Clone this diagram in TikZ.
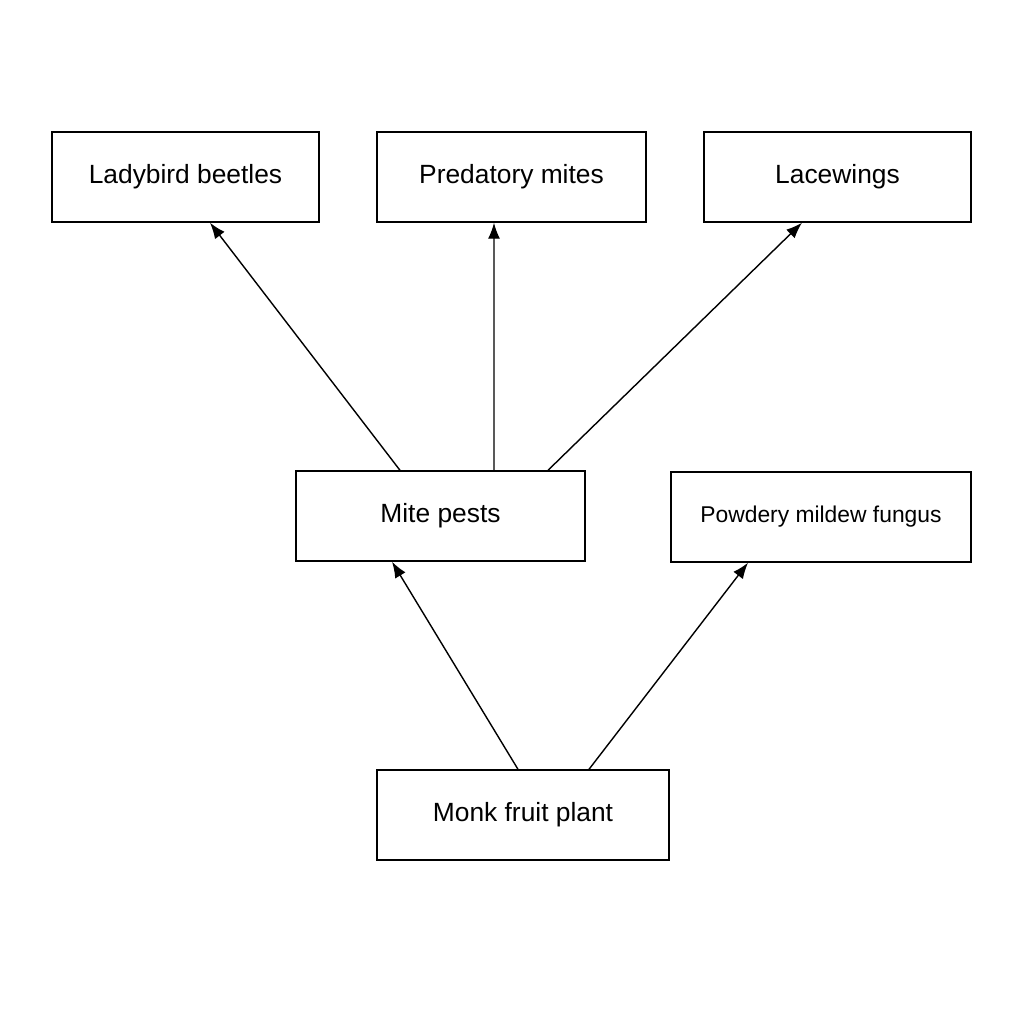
\documentclass[tikz,border=0pt]{standalone}
\usepackage{fontspec}
\setmainfont{Liberation Sans}
\usetikzlibrary{arrows.meta}
\begin{document}
\begin{tikzpicture}[
    box/.style={draw, line width=0.8pt, minimum height=1.8cm, inner sep=0pt, font=\fontsize{15}{18}\selectfont},
    link/.style={line width=0.8pt, -{Latex[length=3.2mm, width=2.4mm]}}
]
    \useasboundingbox (0,0) rectangle (20.48,-20.48);

    % Predators
    \node[box, minimum width=5.34cm] (ladybird) at (3.71,-3.54) {Ladybird beetles};
    \node[box, minimum width=5.38cm] (predmites) at (10.23,-3.54) {Predatory mites};
    \node[box, minimum width=5.34cm] (lacewings) at (16.75,-3.54) {Lacewings};

    % Pests and disease
    \node[box, minimum width=5.78cm] (mites) at (8.81,-10.32) {Mite pests};
    \node[box, minimum width=6.0cm, font=\fontsize{13}{16}\selectfont] (mildew) at (16.42,-10.34) {Powdery mildew fungus};

    % Host plant
    \node[box, minimum width=5.84cm] (plant) at (10.46,-16.3) {Monk fruit plant};

    % Links
    \draw[link] ([xshift=-0.81cm]mites.north) -- ([xshift=0.49cm]ladybird.south);
    \draw[link] ([xshift=1.07cm]mites.north) -- ([xshift=-0.35cm]predmites.south);
    \draw[link] ([xshift=2.15cm]mites.north) -- ([xshift=-0.71cm]lacewings.south);
    \draw[link] ([xshift=-0.1cm]plant.north) -- ([xshift=-0.97cm]mites.south);
    \draw[link] ([xshift=1.32cm]plant.north) -- ([xshift=-1.46cm]mildew.south);
\end{tikzpicture}
\end{document}
